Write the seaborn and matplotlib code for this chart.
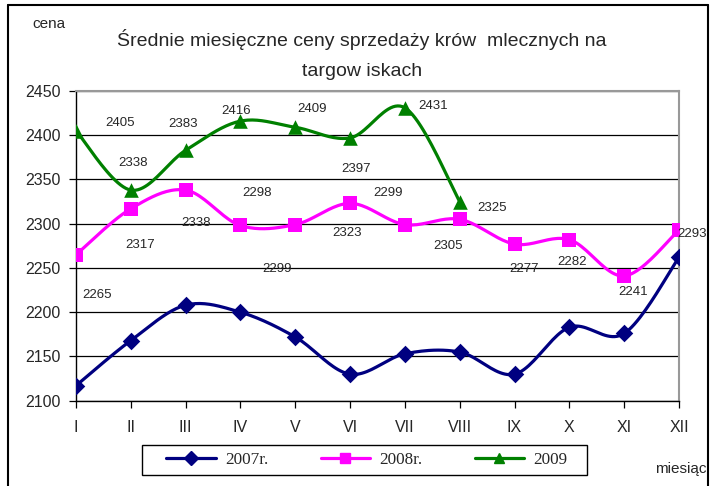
"""
Średnie miesięczne ceny sprzedaży krów mlecznych na targowiskach.
"""

import numpy as np
import matplotlib.pyplot as plt
import seaborn as sns
from matplotlib.lines import Line2D
from matplotlib.patches import Rectangle

months = ['I', 'II', 'III', 'IV', 'V', 'VI', 'VII', 'VIII', 'IX', 'X', 'XI', 'XII']
prices_2007 = [2117, 2168, 2208, 2200, 2172, 2130, 2153, 2155, 2130, 2183, 2176, 2262]
prices_2008 = [2265, 2317, 2338, 2298, 2299, 2323, 2299, 2305, 2277, 2282, 2241, 2293]
prices_2009 = [2405, 2338, 2383, 2416, 2409, 2397, 2431, 2325]
yticks = [2100, 2150, 2200, 2250, 2300, 2350, 2400, 2450]

# label offsets in pixels (dx, dy) relative to the marker
off_2008 = [(21, -40), (9, -36), (10, -33), (17, 32), (-18, -44), (-3, -30),
            (-17, 32), (-12, -27), (10, -25), (3, -22), (9, -16), (13, -4)]
off_2009 = [(44, 8), (2, 27), (-3, 26), (-4, 10), (17, 18), (6, -31),
            (28, 2), (32, -6)]

SANS = ['Liberation Sans', 'DejaVu Sans']
SERIF = ['Liberation Serif', 'DejaVu Serif']


def smooth(xs, ys, n=24):
    """Excel-like smoothed line (cubic bezier through the points)."""
    p = np.column_stack([xs, ys]).astype(float)
    out = [p[0]]
    t = np.linspace(0, 1, n)[1:, None]
    for i in range(len(p) - 1):
        p0 = p[i - 1] if i > 0 else p[i]
        p1, p2 = p[i], p[i + 1]
        p3 = p[i + 2] if i + 2 < len(p) else p[i + 1]
        b1 = p1 + (p2 - p0) / 6
        b2 = p2 - (p3 - p1) / 6
        seg = ((1 - t) ** 3 * p1 + 3 * (1 - t) ** 2 * t * b1
               + 3 * (1 - t) * t ** 2 * b2 + t ** 3 * p2)
        out.extend(seg)
    out = np.array(out)
    return out[:, 0], out[:, 1]


def main():
    sns.set_style('white')
    plt.rcParams['font.family'] = SANS

    fig = plt.figure(figsize=(7.1, 4.86), dpi=100)
    ax = fig.add_axes([76 / 710, 1 - 400.7 / 486, 603 / 710, 309.7 / 486])

    series = [
        (prices_2007, '#000080', 'D', 80, '2007r.', None),
        (prices_2008, '#FF00FF', 's', 90, '2008r.', off_2008),
        (prices_2009, '#008000', '^', 110, '2009', off_2009),
    ]
    handles = []
    for vals, col, mk, size, name, offs in series:
        x = np.arange(len(vals))
        sx, sy = smooth(x, vals)
        ax.plot(sx, sy, color=col, lw=2.3, zorder=3, solid_capstyle='round')
        sns.scatterplot(x=x, y=vals, marker=mk, s=size, color=col,
                        edgecolor=col, linewidth=0, ax=ax, zorder=4,
                        legend=False)
        if offs is not None:
            for xi, v, (dx, dy) in zip(x, vals, offs):
                ax.annotate(str(v), (xi, v), xytext=(dx, dy),
                            textcoords='offset pixels', ha='center',
                            va='center', fontsize=9.5, zorder=5,
                            annotation_clip=False)
        handles.append(Line2D([], [], color=col, lw=2.3, marker=mk,
                              markersize=7, label=name))

    ax.set_xlim(0, 11)
    ax.set_ylim(2100, 2450)
    ax.set_yticks(yticks)
    ax.set_xticks(range(len(months)))
    ax.set_xticklabels(months)
    ax.yaxis.grid(True, color='black', lw=0.9)
    ax.set_axisbelow(True)
    ax.tick_params(axis='x', length=5, width=0.9, pad=9, labelsize=11.5,
                   direction='out', bottom=True, color='black')
    ax.tick_params(axis='y', length=5, width=0.9, pad=6, labelsize=11.5,
                   left=True, color='black')
    for side in ['left', 'bottom']:
        ax.spines[side].set_color('black')
        ax.spines[side].set_linewidth(1.0)
    for side in ['right', 'top']:
        ax.spines[side].set_color('#999999')
        ax.spines[side].set_linewidth(1.5)

    fig.text(362 / 710, 1 - 40 / 486,
             'Średnie miesięczne ceny sprzedaży krów  mlecznych na',
             ha='center', va='center', fontsize=14)
    fig.text(362 / 710, 1 - 71 / 486, 'targow iskach',
             ha='center', va='center', fontsize=14)
    fig.text(32 / 710, 1 - 24 / 486, 'cena', ha='left', va='center',
             fontsize=11)
    fig.text(655 / 710, 1 - 469 / 486, 'miesiąc', ha='left', va='center',
             fontsize=11)

    fig.legend(handles=handles, loc='center',
               bbox_to_anchor=(367 / 710, 1 - 460 / 486), ncol=3,
               frameon=False, handlelength=2.9, columnspacing=3.05,
               handletextpad=0.55, borderpad=0.3,
               prop={'family': SERIF, 'size': 12.3})
    fig.add_artist(Rectangle((142 / 710, 1 - 475 / 486), 445 / 710,
                             30 / 486, transform=fig.transFigure,
                             fill=False, edgecolor='black', lw=1.0))

    # outer chart frame
    for xs, ys in [([8, 8], [486, 5]), ([8, 708], [5, 5]),
                   ([708, 708], [5, 486])]:
        fig.add_artist(Line2D([x / 710 for x in xs],
                              [1 - y / 486 for y in ys],
                              color='black', lw=1.5))

    fig.savefig('out.png', dpi=100)


if __name__ == "__main__":
    main()
